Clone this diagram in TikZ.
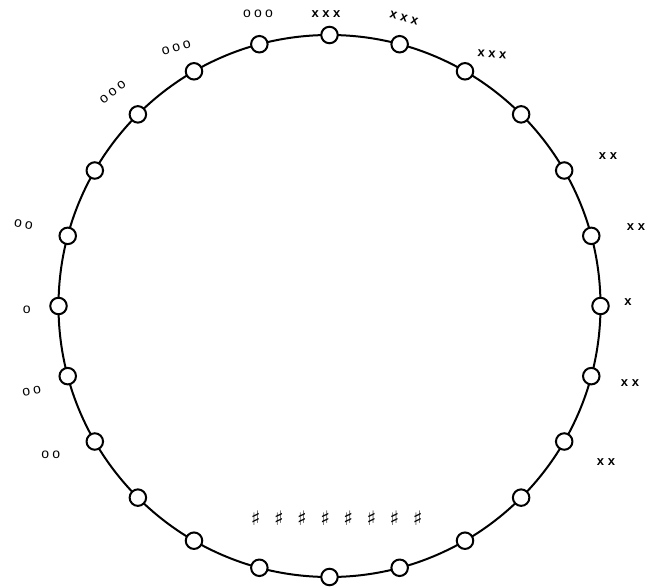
\documentclass[tikz,border=0pt]{standalone}
\usepackage{fontspec}
\setmainfont{Liberation Sans}
\newfontfamily\symfont{DejaVu Sans}
\usetikzlibrary{calc}
\newcommand{\og}{\kern3.2pt}
\newcommand{\xg}{\kern3.6pt}
\begin{document}
\begin{tikzpicture}[x=1pt,y=-1pt,
  stn/.style={circle,draw,fill=white,line width=2pt,minimum size=16.5pt,inner sep=0pt},
  omk/.style={inner sep=0pt,font=\fontsize{14}{14}\selectfont},
  xmk/.style={inner sep=0pt,font=\bfseries\fontsize{13}{13}\selectfont},
  shp/.style={inner sep=0pt,font=\symfont\bfseries\fontsize{20}{20}\selectfont}]
\useasboundingbox (0,0) rectangle (652,586);
\coordinate (c) at (329.5,306);
\draw[line width=2pt] (c) circle[radius=271pt];
\foreach \i in {0,...,23}{\node[stn] (n\i) at ($(c)+({90-15*\i}:271pt)$) {};}
% o marks
\node[omk] (o1) at (258,14) {o\og o\og o};
\node[omk,rotate=17] (o2) at (176.3,47.7) {o\og o\og o};
\node[omk,rotate=38] (o3) at (112.7,92.1) {o\og o\og o};
\node[omk,rotate=-10] (o4) at (23.5,224.5) {o\og o};
\node[omk] (o5) at (26.7,309.3) {o};
\node[omk,rotate=10] (o6) at (31.7,391.3) {o\og o};
\node[omk] (o7) at (50.8,455) {o\og o};
% x marks
\node[xmk] (x1) at (326,14) {x\xg x\xg x};
\node[xmk,rotate=-14] (x2) at (404,18) {x\xg x\xg x};
\node[xmk,rotate=-4] (x3) at (492,54.5) {x\xg x\xg x};
\node[xmk] (x4) at (608,156) {x\xg x};
\node[xmk] (x5) at (636,227) {x\xg x};
\node[xmk] (x6) at (628,302) {x};
\node[xmk] (x7) at (630,383) {x\xg x};
\node[xmk] (x8) at (606,462) {x\xg x};
% sharp marks
\foreach \k in {0,...,7}{\node[shp] (h\k) at (255.7+23.14*\k,517.7) {♯};}
\end{tikzpicture}
\end{document}
